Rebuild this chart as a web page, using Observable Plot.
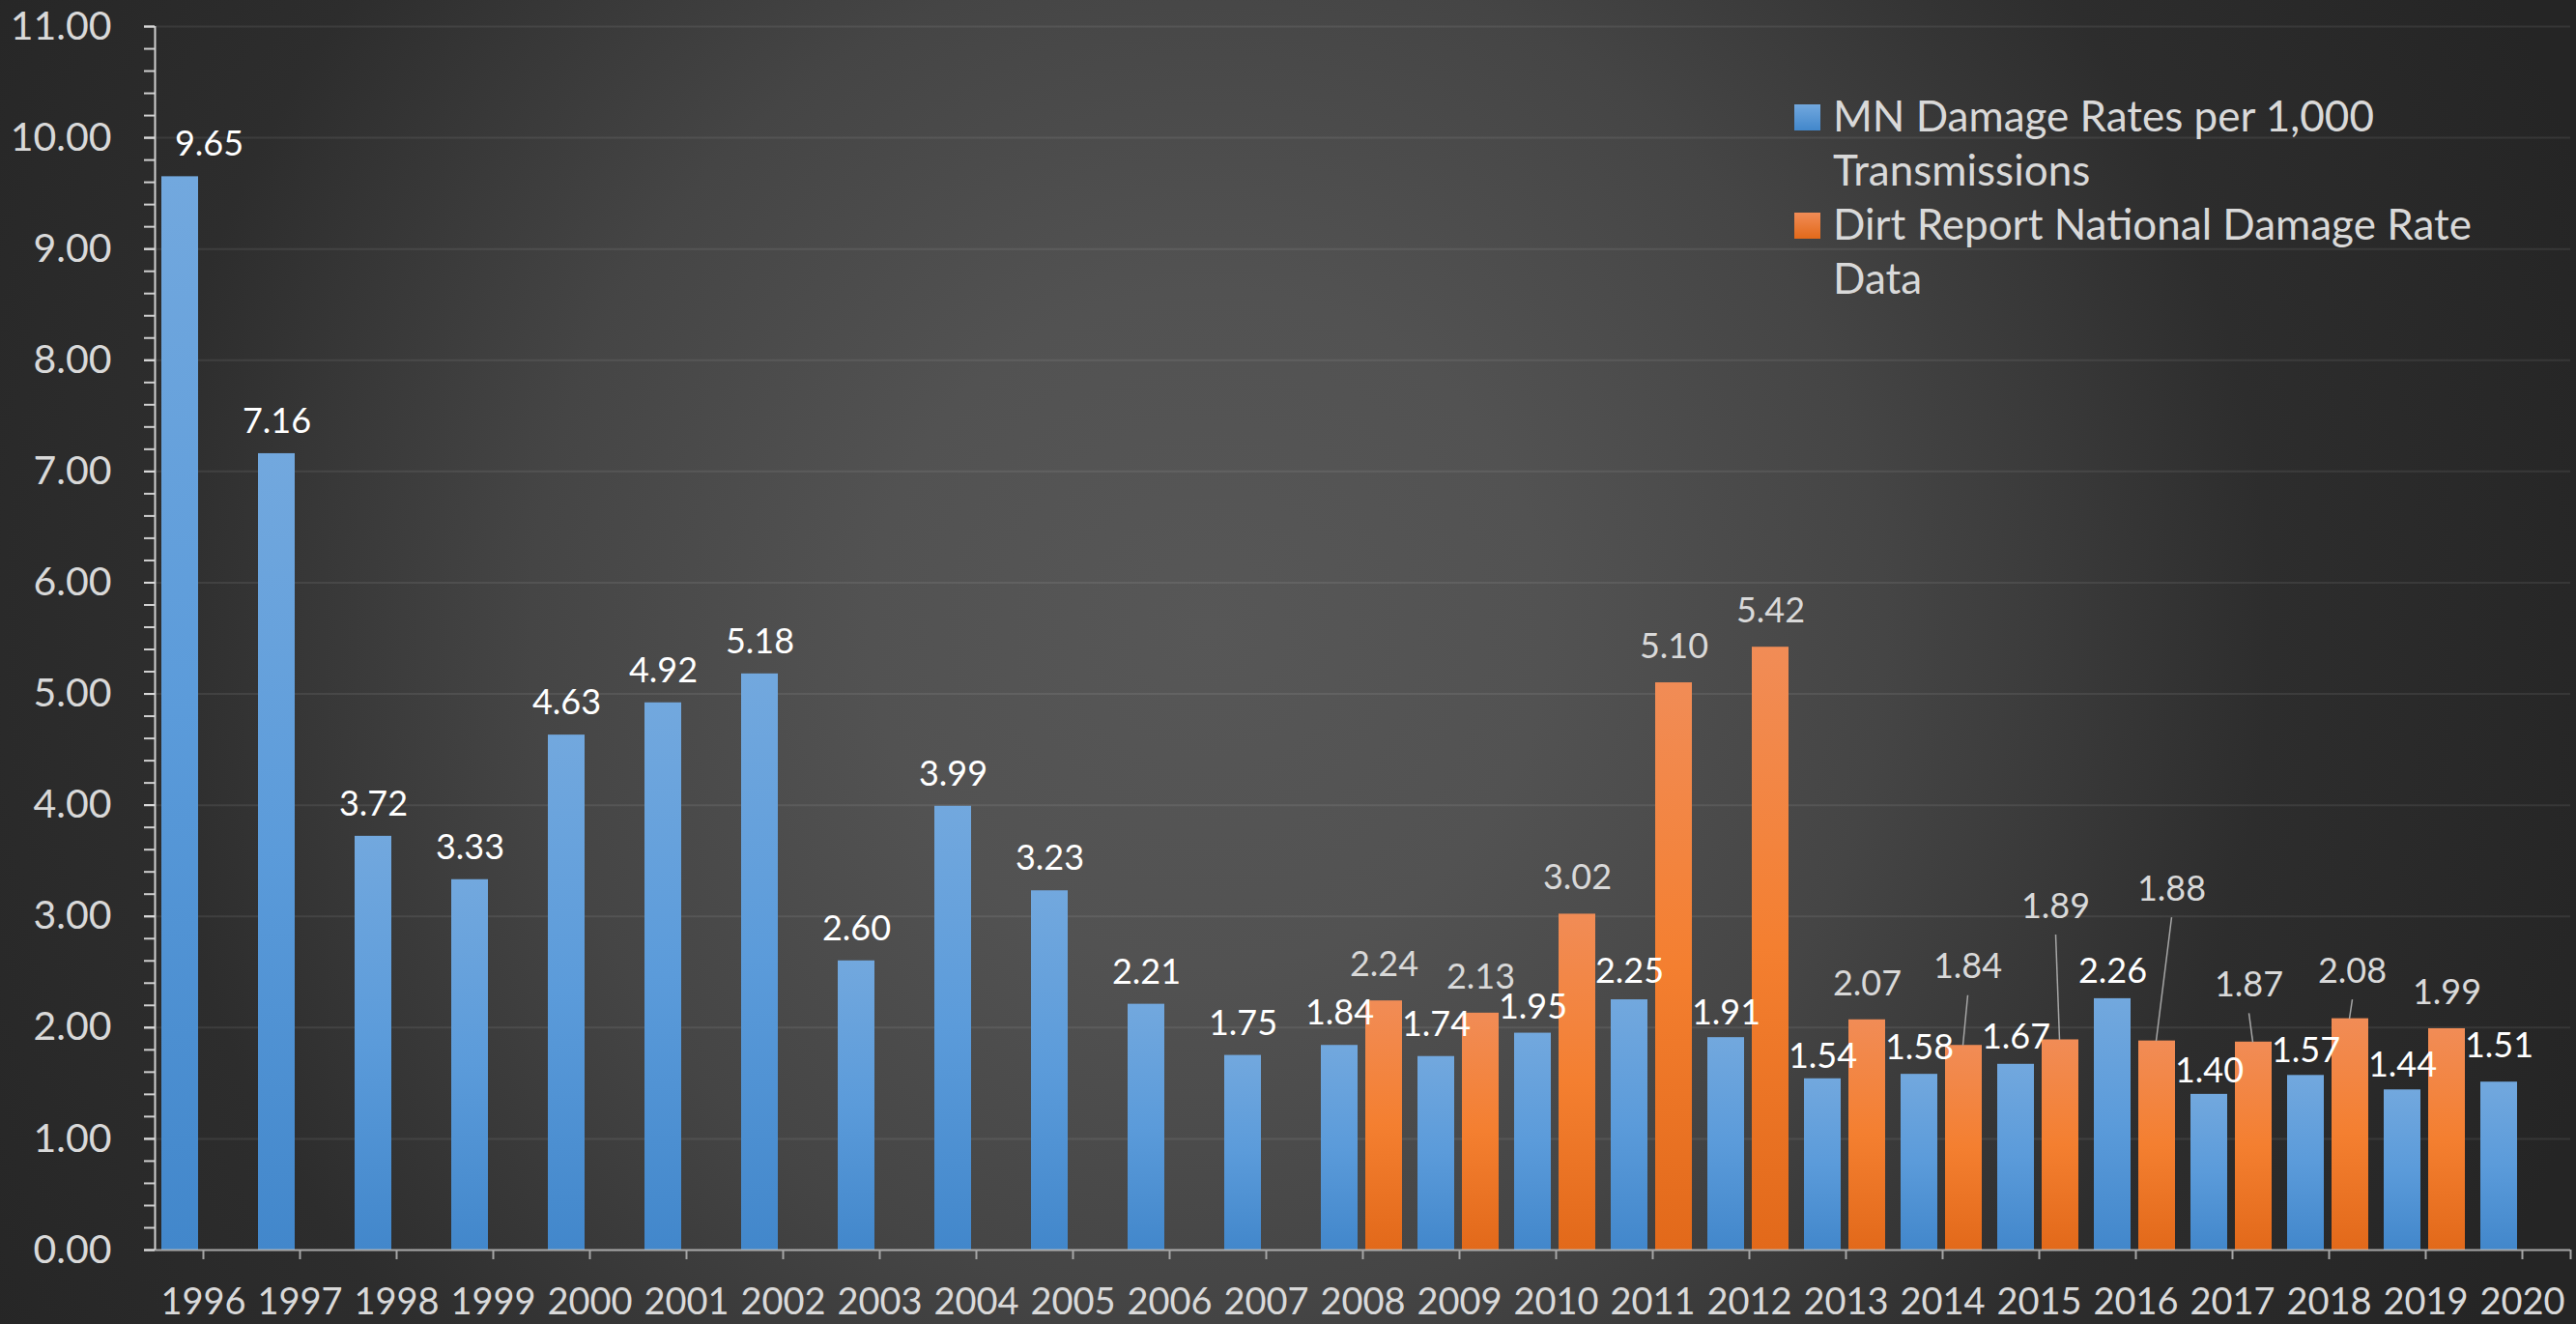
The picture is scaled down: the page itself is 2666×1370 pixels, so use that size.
<!DOCTYPE html>
<html>
<head>
<meta charset="utf-8">
<script src="https://cdn.jsdelivr.net/npm/d3@7"></script>
<script src="https://cdn.jsdelivr.net/npm/@observablehq/plot@0.6"></script>
<style>
  html, body { margin: 0; padding: 0; width: 2666px; height: 1370px; overflow: hidden; }
  body {
    background: radial-gradient(circle at 1250px 650px, #575757 0px, #525252 350px, #454545 700px, #2d2d2d 1100px, #252525 1500px);
    font-family: Lato, sans-serif;
  }
  #chart { position: absolute; left: 0; top: 0; }
  #legend { position: absolute; left: 1857px; top: 91px; color: #d9d9d9; font-size: 44px; line-height: 56px; font-family: Lato, sans-serif; }
  .entry { position: relative; padding-left: 40px; white-space: nowrap; }
  .sw { position: absolute; left: 0; top: 17px; width: 27px; height: 27px; }
</style>
</head>
<body>
<div id="chart"></div>
<div id="legend"></div>
<script>
// ---------- data ----------
const years = [1996, 1997, 1998, 1999, 2000, 2001, 2002, 2003, 2004, 2005, 2006, 2007, 2008,
               2009, 2010, 2011, 2012, 2013, 2014, 2015, 2016, 2017, 2018, 2019, 2020];
const mnRates = [9.65, 7.16, 3.72, 3.33, 4.63, 4.92, 5.18, 2.60, 3.99, 3.23, 2.21, 1.75, 1.84,
                 1.74, 1.95, 2.25, 1.91, 1.54, 1.58, 1.67, 2.26, 1.40, 1.57, 1.44, 1.51];
const dirtYears = [2008, 2009, 2010, 2011, 2012, 2013, 2014, 2015, 2016, 2017, 2018, 2019];
const dirtRates = [2.24, 2.13, 3.02, 5.10, 5.42, 2.07, 1.84, 1.89, 1.88, 1.87, 2.08, 1.99];
const yTicks = [0, 1, 2, 3, 4, 5, 6, 7, 8, 9, 10, 11];
const seriesNames = [["MN Damage Rates per 1,000", "Transmissions"],
                     ["Dirt Report National Damage Rate", "Data"]];

// ---------- layout / style (not data) ----------
const W = 2666, H = 1370;
const mL = 160, mR = 6, mT = 27, mB = 77;
const yMax = yTicks[yTicks.length - 1];
const k = (H - mT - mB) / yMax;                 // px per y unit
const xDomain = [years[0] - 0.5, years[years.length - 1] + 0.5];
const pxX = (xDomain[1] - xDomain[0]) / (W - mL - mR); // x units per px
// label nudges (pixels), as Excel placed them (with leader lines for Dirt labels)
const mnLabelShift = {1996: 30};
const mnLabelLift = {2010: 27, 2011: 29, 2012: 25, 2013: 23, 2014: 27, 2015: 28, 2016: 28,
                     2017: 24, 2018: 25, 2019: 25, 2020: 37};
const mnDefaultLift = 33;
const dirtLabelLift = {2014: 81, 2015: 138, 2016: 157, 2017: 59, 2018: 49};
const dirtLabelShift = {2014: 4, 2015: -5, 2016: 15, 2017: -5, 2018: 2};
const dirtDefaultLift = 37;

const mn = years.map((year, i) => ({
  year, value: mnRates[i],
  lift: mnLabelLift[year] ?? mnDefaultLift,
  shift: mnLabelShift[year] ?? 0
}));
const dirt = dirtYears.map((year, i) => ({
  year, value: dirtRates[i],
  lift: dirtLabelLift[year] ?? dirtDefaultLift,
  shift: dirtLabelShift[year] ?? 0
}));
const leaders = dirt.filter(d => d.year in dirtLabelLift);
const minorTicks = d3.range(0, yMax * 5 + 1).map(i => i / 5);

const blueCenter = -0.24, orangeCenter = 0.22;

const plot = Plot.plot({
  width: W, height: H,
  marginLeft: mL, marginRight: mR, marginTop: mT, marginBottom: mB,
  style: {background: "transparent", fontFamily: "Lato, sans-serif", overflow: "visible"},
  x: {type: "linear", domain: xDomain},
  y: {domain: [0, yMax]},
  marks: [
    Plot.gridY(yTicks, {stroke: "#ffffff", strokeOpacity: 0.08, strokeWidth: 2}),
    Plot.rect(mn, {x1: d => d.year - 0.43, x2: d => d.year - 0.05, y1: 0, y2: "value", fill: "url(#gBlue)"}),
    Plot.rect(dirt, {x1: d => d.year + 0.03, x2: d => d.year + 0.41, y1: 0, y2: "value", fill: "url(#gOrange)"}),
    Plot.ruleY([0], {stroke: "#c0c0c0", strokeOpacity: 0.8, strokeWidth: 2}),
    Plot.ruleX([xDomain[0]], {stroke: "#d0d0d0", strokeWidth: 2}),
    Plot.axisY({ticks: minorTicks, tickFormat: () => "", tickSize: 11, stroke: "#d0d0d0", strokeWidth: 2, label: null}),
    Plot.axisY({ticks: yTicks, tickFormat: d => d.toFixed(2), tickSize: 11, tickPadding: 34,
                fontSize: 41, color: "#d9d9d9", strokeWidth: 2, label: null}),
    Plot.axisX({ticks: years, tickFormat: d => String(d), tickSize: 10, tickPadding: 30,
                fontSize: 38, color: "#d9d9d9", stroke: "#a6a6a6", strokeWidth: 2, label: null}),
    Plot.axisX({ticks: [xDomain[1]], tickFormat: () => "", tickSize: 10, stroke: "#a6a6a6", strokeWidth: 2, label: null}),
    Plot.link(leaders, {
      x1: d => d.year + orangeCenter + d.shift * pxX, y1: d => d.value + (d.lift - 29) / k,
      x2: d => d.year + orangeCenter - 0.01, y2: d => d.value,
      stroke: "#a6a6a6", strokeWidth: 1.5
    }),
    Plot.text(mn, {x: d => d.year + blueCenter + d.shift * pxX, y: d => d.value + d.lift / k,
                   text: d => d.value.toFixed(2), fill: "#ffffff", fontSize: 36, lineAnchor: "middle"}),
    Plot.text(dirt, {x: d => d.year + orangeCenter + d.shift * pxX, y: d => d.value + d.lift / k,
                     text: d => d.value.toFixed(2), fill: "#d9d9d9", fontSize: 36, lineAnchor: "middle"})
  ]
});

d3.select(plot).insert("defs", ":first-child").html(`
  <linearGradient id="gBlue" x1="0" y1="0" x2="0" y2="1">
    <stop offset="0%" stop-color="#72a8de"/>
    <stop offset="50%" stop-color="#5b9bda"/>
    <stop offset="100%" stop-color="#4287cb"/>
  </linearGradient>
  <linearGradient id="gOrange" x1="0" y1="0" x2="0" y2="1">
    <stop offset="0%" stop-color="#f18c56"/>
    <stop offset="50%" stop-color="#f47f30"/>
    <stop offset="100%" stop-color="#e2691a"/>
  </linearGradient>`);

document.getElementById("chart").appendChild(plot);

// legend
const legendColors = ["linear-gradient(#72a8de, #4287cb)", "linear-gradient(#f18c56, #e2691a)"];
const legend = d3.select("#legend");
seriesNames.forEach((lines, i) => {
  const e = legend.append("div").attr("class", "entry");
  e.append("div").attr("class", "sw").style("background", legendColors[i]);
  e.append("div").html(lines.join("<br>"));
});
</script>
</body>
</html>
